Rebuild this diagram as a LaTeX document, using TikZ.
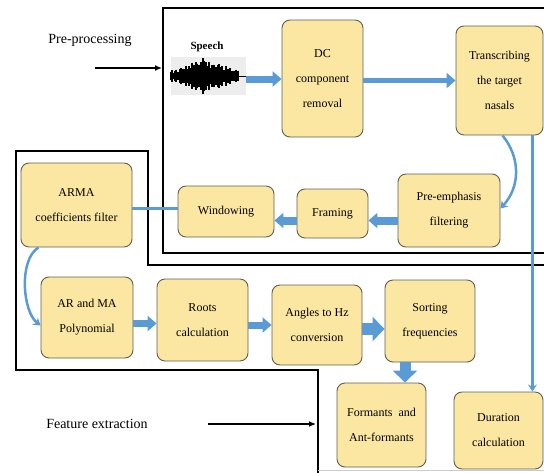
\documentclass[tikz,border=0pt]{standalone}
\usepackage{fontspec}
\setmainfont{Liberation Serif}
\usetikzlibrary{arrows.meta}
\definecolor{boxfill}{RGB}{251,230,162}
\definecolor{boxline}{RGB}{95,95,85}
\definecolor{flowblue}{RGB}{91,155,213}

\tikzset{
  stage/.style 2 args={draw=boxline, fill=boxfill, line width=0.9pt, rounded corners=8pt,
    minimum width=#1, minimum height=#2, align=center, font=\fontsize{12}{25}\selectfont},
  flow/.style={draw=flowblue, line width=7pt, -{Triangle[width=15pt,length=9pt]}},
  fatflow/.style={draw=flowblue, line width=12pt, -{Triangle[width=24pt,length=12pt]}},
  thinflow/.style={draw=flowblue, line width=2.5pt, -{Stealth[width=9pt,length=7pt]}},
  region/.style={draw=black, line width=2.2pt},
  pointer/.style={draw=black, line width=1.3pt, -{Latex[length=7pt,width=6pt]}},
  caption/.style={font=\fontsize{14}{14}\selectfont}
}

\begin{document}
\begin{tikzpicture}[x=1pt, y=-1pt]
\useasboundingbox (0,0) rectangle (544,472);
% the two stages
\draw[region] (546,8) -- (163,8) -- (163,253) -- (546,253);
\draw[region] (546,265) -- (148,265) -- (148,151) -- (16,151) -- (16,370) -- (318,370) -- (318,474);
\draw[gray!40, line width=0.8pt] (318,470) -- (546,470);

\node[caption] (pre) at (90,40) {Pre-processing};
\node[caption] (feat) at (97,424) {Feature extraction};
\coordinate (pre-tail) at (95,68);
\coordinate (pre-head) at (162,68);
\coordinate (feat-tail) at (208,424);
\coordinate (feat-head) at (316,424);
\draw[pointer] (pre-tail) -- (pre-head);
\draw[pointer] (feat-tail) -- (feat-head);

% speech signal
\node[fill=black!7, minimum width=75pt, minimum height=38pt, inner sep=0pt] (speech) at (208,76) {};
\node[font=\bfseries\fontsize{11}{11}\selectfont, inner sep=1pt] (speechlbl) at (207,47) {Speech};
\pgfmathsetseed{5}
\begin{scope}[shift={(speech.center)}, line width=1.4pt]
\foreach \x in {-37,-36,...,30}{
  \pgfmathsetmacro\h{(7+11*rnd)*(1-abs(\x+4)/48)}
  \draw (\x,-\h) -- (\x,\h);
}
\draw[line width=1pt] (30,0) -- (38,0);
\end{scope}

% blocks
\node[stage={81pt}{117pt}] (dc) at (322.5,78.5) {DC\\component\\removal};
\node[stage={87pt}{109pt}] (trans) at (499.5,80.5) {Transcribing\\the target\\nasals};
\node[stage={102pt}{73pt}] (emph) at (449,210.5) {Pre-emphasis\\filtering};
\node[stage={71pt}{49pt}] (frame) at (332.5,213.5) {Framing};
\node[stage={96pt}{51pt}] (window) at (226,211.5) {Windowing};
\node[stage={111pt}{84pt}] (arma) at (76.5,205) {ARMA\\coefficients filter};
\node[stage={92pt}{81pt}] (poly) at (87,317.5) {AR and MA\\Polynomial};
\node[stage={91pt}{82pt}] (roots) at (202.5,320) {Roots\\calculation};
\node[stage={90pt}{80pt}] (angles) at (317,325) {Angles to Hz\\conversion};
\node[stage={90pt}{82pt}] (sorting) at (430,321) {Sorting\\frequencies};
\node[stage={89pt}{84pt}] (formants) at (381.5,425) {Formants~~and\\Ant-formants};
\node[stage={89pt}{77pt}] (duration) at (498.5,430.5) {Duration\\calculation};

% arrows
\draw[flow] ([yshift=-3pt]speech.east) -- ([yshift=-3pt]speech.east -| dc.west);
\draw[flow, line width=5pt] ([yshift=-2pt]dc.east) -- ([yshift=-2pt]dc.east -| trans.west);
\draw[thinflow] ([xshift=3pt]trans.south) .. controls +(18,22) and +(20,-22) .. ([yshift=2pt]emph.east);
\draw[flow, line width=8pt] ([yshift=-10pt]emph.west) -- ([yshift=-10pt]emph.west -| frame.east);
\draw[flow, line width=8pt] ([yshift=-7pt]frame.west) -- ([yshift=-7pt]frame.west -| window.east);
\draw[flowblue, line width=3pt] ([yshift=3pt]window.west) -- ([yshift=3pt]window.west -| arma.east);
\draw[thinflow] ([xshift=18pt]arma.south west) .. controls +(-20,12) and +(-18,-14) .. ([yshift=-8pt]poly.west);
\draw[flow] ([yshift=-6pt]poly.east) -- ([yshift=-6pt]poly.east -| roots.west);
\draw[flow] ([yshift=-5pt]roots.east) -- ([yshift=-5pt]roots.east -| angles.west);
\draw[fatflow] ([yshift=-4pt]angles.east) -- ([yshift=-4pt]angles.east -| sorting.west);
\draw[fatflow, line width=11pt] ([xshift=-25pt]sorting.south) -- ([xshift=-25pt]sorting.south |- formants.north);
\draw[thinflow, line width=3pt] ([xshift=-11pt]trans.south east) -- ([xshift=-11pt]trans.south east |- duration.north);
\end{tikzpicture}
\end{document}
